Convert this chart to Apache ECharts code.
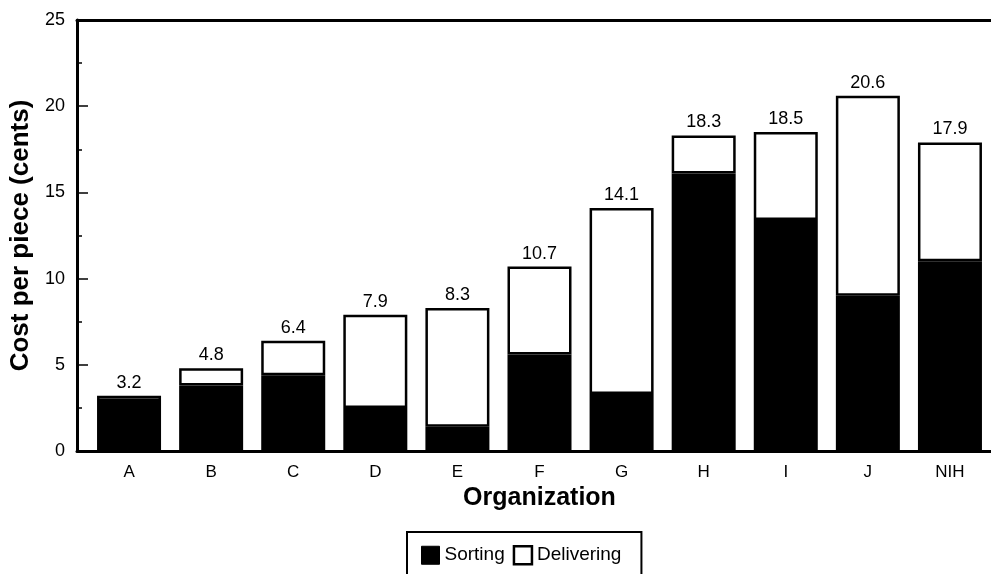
<!DOCTYPE html>
<html>
<head>
<meta charset="utf-8">
<script src="https://cdn.jsdelivr.net/npm/echarts@6/dist/echarts.min.js"></script>
<style>
html,body{margin:0;padding:0;background:#fff;}
#chart{width:991px;height:574px;}
</style>
</head>
<body>
<div id="chart"></div>
<script>
var categories = ['A','B','C','D','E','F','G','H','I','J','NIH'];
var sorting = [2.9, 3.8, 4.4, 2.5, 1.4, 5.6, 3.3, 16.1, 13.4, 9.0, 11.0];
var delivering = [0.3, 1.0, 2.0, 5.4, 6.9, 5.1, 10.8, 2.2, 5.1, 11.6, 6.9];
var totals = [3.2, 4.8, 6.4, 7.9, 8.3, 10.7, 14.1, 18.3, 18.5, 20.6, 17.9];

var FONT = "'Liberation Sans', Arial, Helvetica, sans-serif";

var chart = echarts.init(document.getElementById('chart'), null, {renderer:'canvas'});
chart.setOption({
  animation: false,
  backgroundColor: '#fff',
  textStyle: {fontFamily: FONT, color: '#000'},
  grid: [
    {left: 88, right: 0, top: 20, bottom: 123, containLabel: false},
    {left: 77, right: 0, top: 20, bottom: 123, containLabel: false}
  ],
  legend: {
    left: 407, top: 532,
    orient: 'horizontal',
    borderColor: '#000', borderWidth: 2,
    padding: [13, 20, 20, 14],
    itemWidth: 18, itemHeight: 18, itemGap: 8,
    icon: 'rect',
    textStyle: {fontSize: 19, color: '#000', fontFamily: FONT},
    data: [
      {name: 'Sorting', itemStyle: {color: '#000', borderColor: '#000', borderWidth: 1}},
      {name: 'Delivering', itemStyle: {color: '#fff', borderColor: '#000', borderWidth: 2.5}}
    ]
  },
  xAxis: [{
    type: 'category',
    gridIndex: 0,
    data: categories,
    position: 'bottom',
    axisLine: {show: false},
    axisTick: {show: false},
    splitLine: {show: false},
    axisLabel: {fontSize: 17, color: '#000', margin: 13, fontFamily: FONT, interval: 0},
    name: 'Organization',
    nameLocation: 'middle',
    nameGap: 33,
    nameTextStyle: {fontSize: 25, fontWeight: 'bold', color: '#000', fontFamily: FONT}
  }, {
    type: 'value',
    gridIndex: 1,
    position: 'bottom',
    axisLine: {show: true, onZero: false, lineStyle: {color: '#000', width: 3}},
    axisTick: {show: false},
    axisLabel: {show: false},
    splitLine: {show: false}
  }, {
    type: 'value',
    gridIndex: 1,
    position: 'top',
    axisLine: {show: true, onZero: false, lineStyle: {color: '#000', width: 3}},
    axisTick: {show: false},
    axisLabel: {show: false},
    splitLine: {show: false}
  }],
  yAxis: [{
    type: 'value',
    gridIndex: 0,
    min: 0, max: 25, interval: 5,
    offset: 11,
    axisLine: {show: true, onZero: false, lineStyle: {color: '#000', width: 3}},
    axisTick: {show: true, inside: true, length: 11, lineStyle: {color: '#000', width: 1.5}},
    minorTick: {show: true, splitNumber: 2, length: 5, lineStyle: {color: '#000', width: 1.5}},
    splitLine: {show: false},
    axisLabel: {fontSize: 18, color: '#000', margin: 12, fontFamily: FONT},
    name: 'Cost per piece (cents)',
    nameLocation: 'middle',
    nameGap: 41,
    nameTextStyle: {fontSize: 26, fontWeight: 'bold', color: '#000', fontFamily: FONT}
  }, {
    type: 'value',
    gridIndex: 1,
    show: false,
    min: 0, max: 25
  }],
  series: [{
    name: 'Sorting',
    type: 'bar',
    stack: 'total',
    xAxisIndex: 0, yAxisIndex: 0,
    barWidth: 64,
    data: sorting,
    itemStyle: {color: '#000', borderColor: '#000', borderWidth: 2}
  }, {
    name: 'Delivering',
    type: 'bar',
    stack: 'total',
    xAxisIndex: 0, yAxisIndex: 0,
    barWidth: 64,
    data: delivering,
    itemStyle: {color: '#fff', borderColor: '#000', borderWidth: 2.5},
    label: {
      show: true, position: 'top', distance: 4,
      formatter: function(p){ return totals[p.dataIndex].toFixed(1); },
      fontSize: 18, color: '#000', fontFamily: FONT
    }
  }]
});
</script>
</body>
</html>
